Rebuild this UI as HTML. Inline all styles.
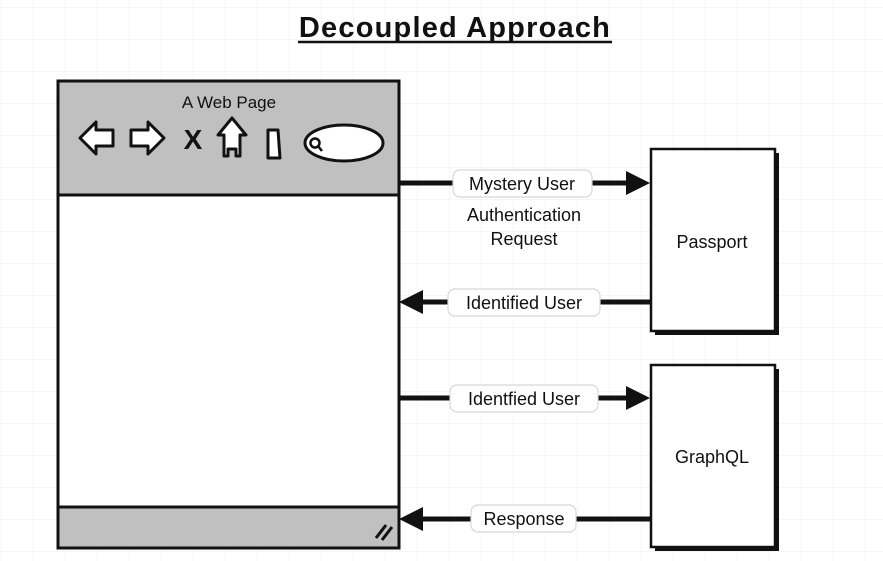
<!DOCTYPE html>
<html><head><meta charset="utf-8"><style>
body{margin:0;width:883px;height:561px;overflow:hidden;background:#fff;}
svg{display:block}
text{font-family:"Liberation Sans",sans-serif;fill:#111}
</style></head><body>
<svg width="883" height="561" viewBox="0 0 883 561">
<defs>
<pattern id="g" width="32" height="32" patternUnits="userSpaceOnUse" x="2" y="8">
<path d="M32 0V32M0 32H32" stroke="#ececec" stroke-width="1" fill="none"/>
</pattern>
</defs>
<rect width="883" height="561" fill="url(#g)"/>
<text x="455" y="37" text-anchor="middle" font-size="29" font-weight="bold" letter-spacing="1.2">Decoupled Approach</text>
<line x1="298" y1="42" x2="612" y2="42" stroke="#111" stroke-width="2.5"/>

<rect x="58" y="81" width="341" height="467" fill="#fff" stroke="#111" stroke-width="3"/>
<rect x="59.5" y="82.5" width="338" height="112" fill="#c0c0c0"/>
<line x1="58" y1="195" x2="399" y2="195" stroke="#111" stroke-width="3"/>
<rect x="59.5" y="508" width="338" height="38.5" fill="#c0c0c0"/>
<line x1="58" y1="507" x2="399" y2="507" stroke="#111" stroke-width="3"/>
<text x="229" y="108" text-anchor="middle" font-size="17">A Web Page</text>
<g fill="#fff" stroke="#111" stroke-width="3" stroke-linejoin="round">
<path d="M80 138 L96 122 L96 130 L113 130 L113 146 L96 146 L96 154 Z"/>
<path d="M164 138 L148 122 L148 130 L131 130 L131 146 L148 146 L148 154 Z"/>
<path d="M232 118 L246 135 L240 135 L240 156 L236 156 L236 149 L228 149 L228 156 L224 156 L224 135 L218 135 Z"/>
<path d="M268 130 L278 130 L280 158 L268 158 Z"/>
<ellipse cx="344" cy="143" rx="39" ry="18"/>
<circle cx="315" cy="143" r="4.5" stroke-width="2.5"/>
<line x1="318" y1="146" x2="322" y2="151" stroke-width="2.5"/>
</g>
<text x="193" y="149" text-anchor="middle" font-size="28" font-weight="bold">X</text>
<g stroke="#111" stroke-width="3"><line x1="376" y1="538" x2="386" y2="525"/><line x1="382" y1="540" x2="392" y2="527"/></g>

<rect x="655" y="153" width="124" height="182" fill="#111"/>
<rect x="651" y="149" width="124" height="182" fill="#fff" stroke="#111" stroke-width="2.5"/>
<text x="712" y="248" text-anchor="middle" font-size="18">Passport</text>
<rect x="655" y="369" width="124" height="182" fill="#111"/>
<rect x="651" y="365" width="124" height="182" fill="#fff" stroke="#111" stroke-width="2.5"/>
<text x="712" y="463" text-anchor="middle" font-size="18">GraphQL</text>

<g stroke="#111" stroke-width="5" fill="#111">
<line x1="399" y1="183" x2="634" y2="183"/><path d="M626 171 L650 183 L626 195 Z" stroke="none"/>
<line x1="415" y1="302" x2="650" y2="302"/><path d="M423 290 L399 302 L423 314 Z" stroke="none"/>
<line x1="399" y1="398" x2="634" y2="398"/><path d="M626 386 L650 398 L626 410 Z" stroke="none"/>
<line x1="415" y1="519" x2="650" y2="519"/><path d="M423 507 L399 519 L423 531 Z" stroke="none"/>
</g>
<g fill="#fff" stroke="#d8d8d8" stroke-width="1.2">
<rect x="453" y="170" width="139" height="27" rx="7"/>
<rect x="448" y="289" width="152" height="27" rx="7"/>
<rect x="450" y="385" width="148" height="27" rx="7"/>
<rect x="471" y="505" width="105" height="27" rx="7"/>
</g>
<g font-size="18" text-anchor="middle">
<text x="522" y="190">Mystery User</text>
<text x="524" y="309">Identified User</text>
<text x="524" y="405">Identfied User</text>
<text x="524" y="525">Response</text>
<text x="524" y="221">Authentication</text>
<text x="524" y="245">Request</text>
</g>
</svg>
</body></html>
